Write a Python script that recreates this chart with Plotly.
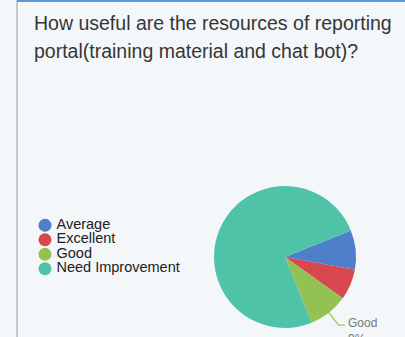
import math
import plotly.graph_objects as go

categories = ["Average", "Excellent", "Good", "Need Improvement"]
values = [9, 7, 9, 75]
colors = ["#4f7fc8", "#d9474e", "#93c252", "#4ec3a8"]
title_lines = ["How useful are the resources of reporting", "portal(training material and chat bot)?"]

W, H = 405, 337
BG = "#f3f7fa"
FONT = "Liberation Sans, Arial, sans-serif"
rotation = 68

pie_domain_x = [214 / W, 356 / W]
pie_domain_y = [9 / H, 151 / H]

fig = go.Figure()
fig.add_trace(go.Pie(
    labels=categories, values=values, sort=False, direction="clockwise",
    rotation=rotation, marker=dict(colors=colors, line=dict(width=0)),
    textinfo="none", hoverinfo="label+percent", showlegend=False,
    domain=dict(x=pie_domain_x, y=pie_domain_y),
))

# legend drawn as a small scatter on hidden axes
rows = list(range(len(categories)))
fig.add_trace(go.Scatter(
    x=[0] * len(categories), y=rows, mode="markers",
    marker=dict(size=13, color=colors), cliponaxis=False,
    showlegend=False, hoverinfo="skip",
))
fig.add_trace(go.Scatter(
    x=[0.058] * len(categories), y=rows, mode="text", text=categories,
    textposition="middle right",
    textfont=dict(size=14.5, color="#222222", family=FONT),
    cliponaxis=False, showlegend=False, hoverinfo="skip",
))

# leader line + label for "Good"
total = sum(values)
start = 90 - rotation  # degrees from 3 o'clock, ccw
cum = 0
for cat, v in zip(categories, values):
    a0 = start - 360 * cum / total
    a1 = start - 360 * (cum + v) / total
    cum += v
    if cat == "Good":
        mid = math.radians((a0 + a1) / 2)
        cx = (pie_domain_x[0] + pie_domain_x[1]) / 2 * W
        cy = (1 - (pie_domain_y[0] + pie_domain_y[1]) / 2) * H
        r = (pie_domain_x[1] - pie_domain_x[0]) * W / 2
        p0 = (cx + r * math.cos(mid), cy - r * math.sin(mid))
        p1 = (cx + (r + 16) * math.cos(mid), cy - (r + 16) * math.sin(mid))
        p2 = (p1[0] + 6, p1[1])
        path = f"M {p0[0]/W} {1-p0[1]/H} L {p1[0]/W} {1-p1[1]/H} L {p2[0]/W} {1-p2[1]/H}"
        fig.add_shape(type="path", xref="paper", yref="paper", path=path,
                      line=dict(color="#b8d27e", width=1.5))
        fig.add_annotation(xref="paper", yref="paper", x=(p2[0] + 1) / W, y=1 - (p2[1] - 11) / H,
                           xanchor="left", yanchor="top", showarrow=False, align="left",
                           text=f"{cat}<br>{round(100 * v / total)}%",
                           font=dict(size=12, color="#777777", family=FONT))

for i, line in enumerate(title_lines):
    fig.add_annotation(xref="paper", yref="paper", x=32 / W, y=1 - (23 + 28 * i) / H,
                       xanchor="left", yanchor="middle", showarrow=False, text=line,
                       font=dict(size=19.5, color="#363636", family=FONT))

fig.update_layout(
    width=W, height=H, margin=dict(l=0, r=0, t=0, b=0),
    paper_bgcolor=BG, plot_bgcolor="rgba(0,0,0,0)",
    xaxis=dict(domain=[45 / W, 0.6], range=[0, 1], visible=False, fixedrange=True),
    yaxis=dict(domain=[(H - 276) / H, (H - 218) / H], range=[3.5, -0.5], visible=False, fixedrange=True),
    shapes=[
        dict(type="rect", xref="paper", yref="paper", x0=0, x1=17 / W, y0=0, y1=1,
             fillcolor="white", line=dict(width=0), layer="below"),
        dict(type="line", xref="paper", yref="paper", x0=17 / W, x1=17 / W, y0=0, y1=1,
             line=dict(color="#c8c8c8", width=2)),
        dict(type="line", xref="paper", yref="paper", x0=17 / W, x1=1, y0=1 - 1 / H, y1=1 - 1 / H,
             line=dict(color="#5b9bd5", width=2)),
    ] + list(fig.layout.shapes),
)

fig.write_html("out.html")
